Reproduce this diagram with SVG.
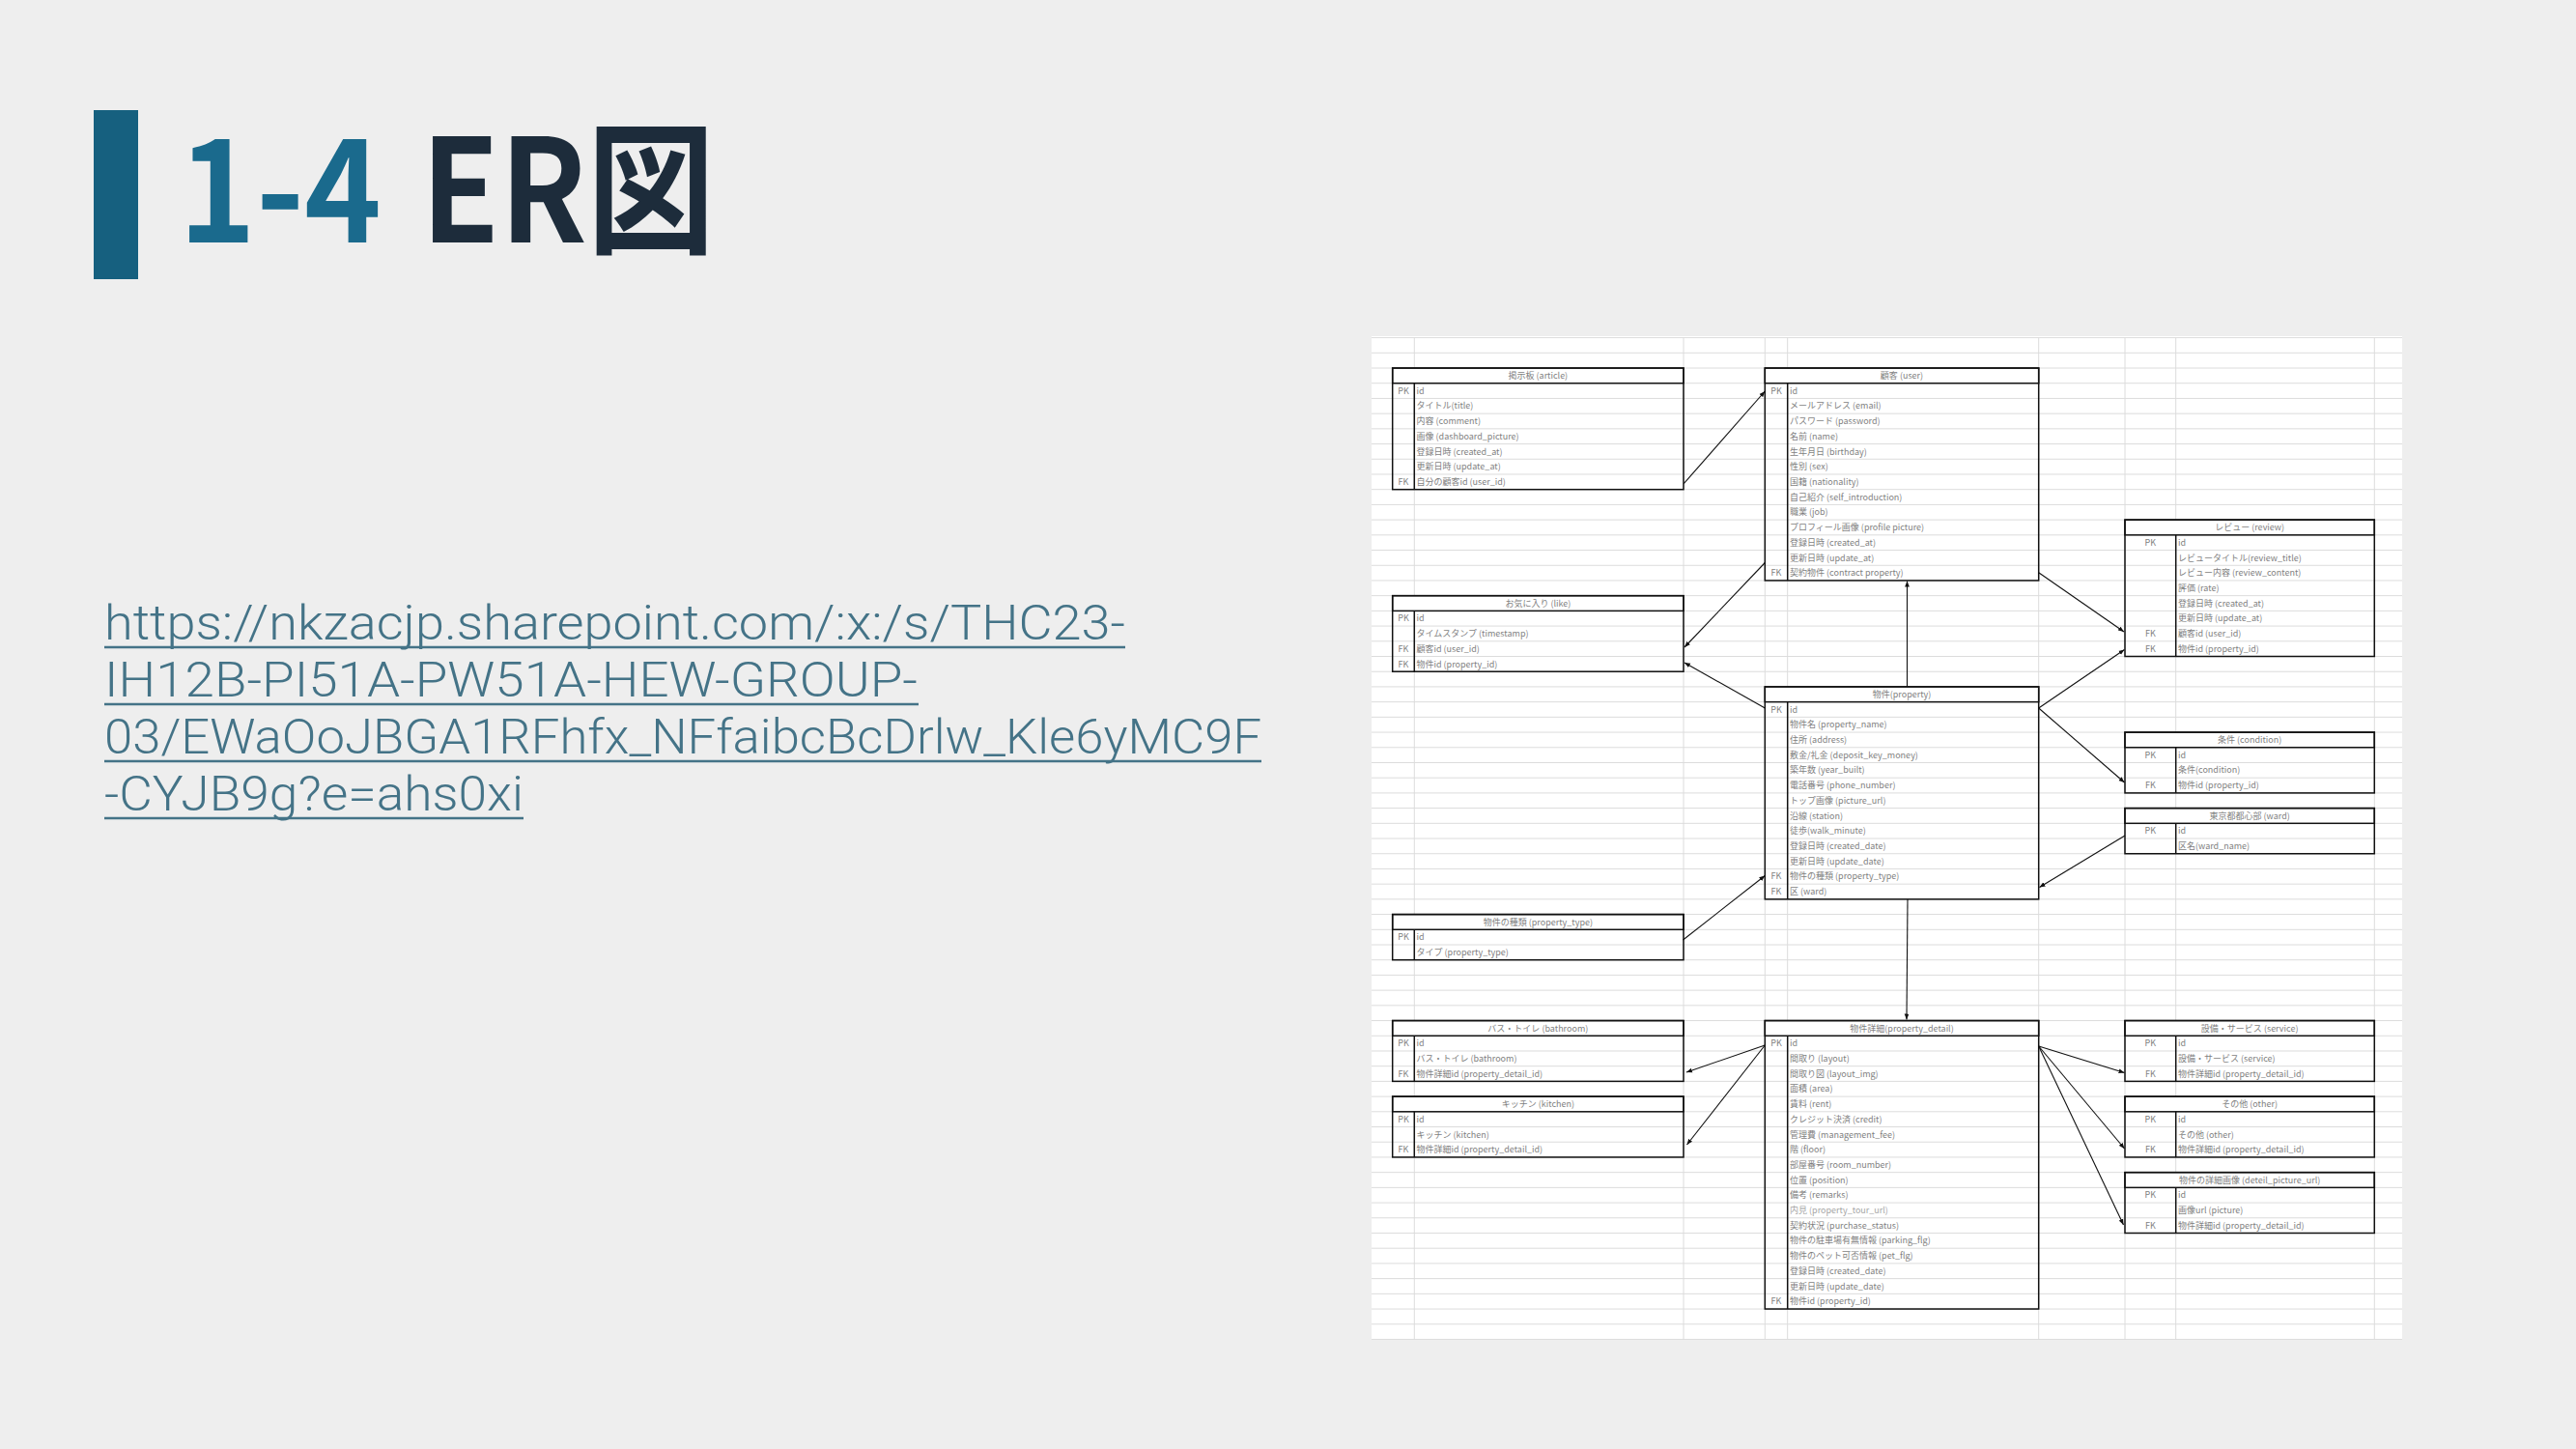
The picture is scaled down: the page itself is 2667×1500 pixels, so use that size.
<svg xmlns="http://www.w3.org/2000/svg" width="2667" height="1500" viewBox="0 0 2667 1500">
<style>
.bg{fill:#eeeeee}
.sheet{fill:#ffffff}
.grid{stroke:#dcdcdc;stroke-width:1;fill:none}
.hd{fill:#ffffff;stroke:#111;stroke-width:1.5}
.ob{fill:none;stroke:#111;stroke-width:1.5}
.dv{stroke:#111;stroke-width:1.5}
.t{font-family:"Noto Sans CJK JP","Noto Sans",sans-serif;font-size:9px;fill:#7f7f7f}
.c{text-anchor:middle}
.lt{fill:#a6a6a6}
.cn{stroke:#111;stroke-width:1.1;fill:none;marker-end:url(#ah)}
.link{font-family:Roboto,"Liberation Sans",Arial,sans-serif;font-weight:300;font-size:50px;fill:#447387}
.ul{stroke:#447387;stroke-width:2.5}
</style>
<defs>
<marker id="ah" viewBox="0 0 10 10" refX="10" refY="5" markerWidth="6" markerHeight="6" markerUnits="userSpaceOnUse" orient="auto"><path d="M0,1 L10,5 L0,9 z" fill="#111"/></marker>
</defs>
<rect class="bg" x="0" y="0" width="2667" height="1500"/>
<g id="title">
<rect x="97" y="114" width="46" height="175" fill="#16607f"/>
<text x="185" y="251" font-family="'Noto Sans CJK JP',sans-serif" font-weight="700" font-size="148" fill="#1a6a8d" textLength="210" lengthAdjust="spacingAndGlyphs">1-4</text>
<text x="436" y="251" font-family="'Noto Sans CJK JP',sans-serif" font-weight="700" font-size="148" fill="#1d2c3b" textLength="304" lengthAdjust="spacingAndGlyphs">ER図</text>
</g>
<g id="link">
<text class="link" x="108" y="662" textLength="1057" lengthAdjust="spacingAndGlyphs">https://nkzacjp.sharepoint.com/:x:/s/THC23-</text>
<text class="link" x="108" y="721" textLength="842" lengthAdjust="spacingAndGlyphs">IH12B-PI51A-PW51A-HEW-GROUP-</text>
<text class="link" x="108" y="780" textLength="1198" lengthAdjust="spacingAndGlyphs">03/EWaOoJBGA1RFhfx_NFfaibcBcDrlw_Kle6yMC9F</text>
<text class="link" x="108" y="839" textLength="434" lengthAdjust="spacingAndGlyphs">-CYJB9g?e=ahs0xi</text>
<line class="ul" x1="108" y1="670" x2="1165" y2="670"/>
<line class="ul" x1="108" y1="729" x2="951" y2="729"/>
<line class="ul" x1="108" y1="788" x2="1306" y2="788"/>
<line class="ul" x1="108" y1="847" x2="542" y2="847"/>
</g>
<g id="sheet">
<rect class="sheet" x="1420" y="348" width="1067" height="1039"/>
<path class="grid" d="M1420 349.6H2487M1420 365.31H2487M1420 381.02H2487M1420 396.73H2487M1420 412.44H2487M1420 428.15H2487M1420 443.86H2487M1420 459.57H2487M1420 475.28H2487M1420 490.99H2487M1420 506.7H2487M1420 522.41H2487M1420 538.12H2487M1420 553.83H2487M1420 569.54H2487M1420 585.25H2487M1420 600.96H2487M1420 616.67H2487M1420 632.38H2487M1420 648.09H2487M1420 663.8H2487M1420 679.51H2487M1420 695.22H2487M1420 710.93H2487M1420 726.64H2487M1420 742.35H2487M1420 758.06H2487M1420 773.77H2487M1420 789.48H2487M1420 805.19H2487M1420 820.9H2487M1420 836.61H2487M1420 852.32H2487M1420 868.03H2487M1420 883.74H2487M1420 899.45H2487M1420 915.16H2487M1420 930.87H2487M1420 946.58H2487M1420 962.29H2487M1420 978H2487M1420 993.71H2487M1420 1009.42H2487M1420 1025.13H2487M1420 1040.84H2487M1420 1056.55H2487M1420 1072.26H2487M1420 1087.97H2487M1420 1103.68H2487M1420 1119.39H2487M1420 1135.1H2487M1420 1150.81H2487M1420 1166.52H2487M1420 1182.23H2487M1420 1197.94H2487M1420 1213.65H2487M1420 1229.36H2487M1420 1245.07H2487M1420 1260.78H2487M1420 1276.49H2487M1420 1292.2H2487M1420 1307.91H2487M1420 1323.62H2487M1420 1339.33H2487M1420 1355.04H2487M1420 1370.75H2487M1420 1386.46H2487M1464.3 349.6V1386.46M1743 349.6V1386.46M1827.3 349.6V1386.46M1850.7 349.6V1386.46M2110.7 349.6V1386.46M2200 349.6V1386.46M2252.7 349.6V1386.46M2458.3 349.6V1386.46"/>
</g>

<g id="t-article">
<rect class="hd" x="1441.7" y="381.02" width="301.3" height="15.71"/>
<rect class="ob" x="1441.7" y="381.02" width="301.3" height="125.68"/>
<line class="dv" x1="1464.3" y1="396.73" x2="1464.3" y2="506.7"/>
<text class="t c" x="1592.35" y="392.02">掲示板 (article)</text>
<text class="t c" x="1453" y="407.73">PK</text><text class="t" x="1466.5" y="407.73">id</text>
<text class="t" x="1466.5" y="423.44">タイトル(title)</text>
<text class="t" x="1466.5" y="439.15">内容 (comment)</text>
<text class="t" x="1466.5" y="454.86">画像 (dashboard_picture)</text>
<text class="t" x="1466.5" y="470.57">登録日時 (created_at)</text>
<text class="t" x="1466.5" y="486.28">更新日時 (update_at)</text>
<text class="t c" x="1453" y="501.99">FK</text><text class="t" x="1466.5" y="501.99">自分の顧客id (user_id)</text>
</g>

<g id="t-user">
<rect class="hd" x="1827.3" y="381.02" width="283.4" height="15.71"/>
<rect class="ob" x="1827.3" y="381.02" width="283.4" height="219.94"/>
<line class="dv" x1="1850.7" y1="396.73" x2="1850.7" y2="600.96"/>
<text class="t c" x="1969" y="392.02">顧客 (user)</text>
<text class="t c" x="1839" y="407.73">PK</text><text class="t" x="1853" y="407.73">id</text>
<text class="t" x="1853" y="423.44">メールアドレス (email)</text>
<text class="t" x="1853" y="439.15">パスワード (password)</text>
<text class="t" x="1853" y="454.86">名前 (name)</text>
<text class="t" x="1853" y="470.57">生年月日 (birthday)</text>
<text class="t" x="1853" y="486.28">性別 (sex)</text>
<text class="t" x="1853" y="501.99">国籍 (nationality)</text>
<text class="t" x="1853" y="517.7">自己紹介 (self_introduction)</text>
<text class="t" x="1853" y="533.41">職業 (job)</text>
<text class="t" x="1853" y="549.12">プロフィール画像 (profile picture)</text>
<text class="t" x="1853" y="564.83">登録日時 (created_at)</text>
<text class="t" x="1853" y="580.54">更新日時 (update_at)</text>
<text class="t c" x="1839" y="596.25">FK</text><text class="t" x="1853" y="596.25">契約物件 (contract property)</text>
</g>

<g id="t-review">
<rect class="hd" x="2200" y="538.12" width="258.3" height="15.71"/>
<rect class="ob" x="2200" y="538.12" width="258.3" height="141.39"/>
<line class="dv" x1="2252.7" y1="553.83" x2="2252.7" y2="679.51"/>
<text class="t c" x="2329.15" y="549.12">レビュー (review)</text>
<text class="t c" x="2226.35" y="564.83">PK</text><text class="t" x="2255" y="564.83">id</text>
<text class="t" x="2255" y="580.54">レビュータイトル(review_title)</text>
<text class="t" x="2255" y="596.25">レビュー内容 (review_content)</text>
<text class="t" x="2255" y="611.96">評価 (rate)</text>
<text class="t" x="2255" y="627.67">登録日時 (created_at)</text>
<text class="t" x="2255" y="643.38">更新日時 (update_at)</text>
<text class="t c" x="2226.35" y="659.09">FK</text><text class="t" x="2255" y="659.09">顧客id (user_id)</text>
<text class="t c" x="2226.35" y="674.8">FK</text><text class="t" x="2255" y="674.8">物件id (property_id)</text>
</g>

<g id="t-like">
<rect class="hd" x="1441.7" y="616.67" width="301.3" height="15.71"/>
<rect class="ob" x="1441.7" y="616.67" width="301.3" height="78.55"/>
<line class="dv" x1="1464.3" y1="632.38" x2="1464.3" y2="695.22"/>
<text class="t c" x="1592.35" y="627.67">お気に入り (like)</text>
<text class="t c" x="1453" y="643.38">PK</text><text class="t" x="1466.5" y="643.38">id</text>
<text class="t" x="1466.5" y="659.09">タイムスタンプ (timestamp)</text>
<text class="t c" x="1453" y="674.8">FK</text><text class="t" x="1466.5" y="674.8">顧客id (user_id)</text>
<text class="t c" x="1453" y="690.51">FK</text><text class="t" x="1466.5" y="690.51">物件id (property_id)</text>
</g>

<g id="t-property">
<rect class="hd" x="1827.3" y="710.93" width="283.4" height="15.71"/>
<rect class="ob" x="1827.3" y="710.93" width="283.4" height="219.94"/>
<line class="dv" x1="1850.7" y1="726.64" x2="1850.7" y2="930.87"/>
<text class="t c" x="1969" y="721.93">物件(property)</text>
<text class="t c" x="1839" y="737.64">PK</text><text class="t" x="1853" y="737.64">id</text>
<text class="t" x="1853" y="753.35">物件名 (property_name)</text>
<text class="t" x="1853" y="769.06">住所 (address)</text>
<text class="t" x="1853" y="784.77">敷金/礼金 (deposit_key_money)</text>
<text class="t" x="1853" y="800.48">築年数 (year_built)</text>
<text class="t" x="1853" y="816.19">電話番号 (phone_number)</text>
<text class="t" x="1853" y="831.9">トップ画像 (picture_url)</text>
<text class="t" x="1853" y="847.61">沿線 (station)</text>
<text class="t" x="1853" y="863.32">徒歩(walk_minute)</text>
<text class="t" x="1853" y="879.03">登録日時 (created_date)</text>
<text class="t" x="1853" y="894.74">更新日時 (update_date)</text>
<text class="t c" x="1839" y="910.45">FK</text><text class="t" x="1853" y="910.45">物件の種類 (property_type)</text>
<text class="t c" x="1839" y="926.16">FK</text><text class="t" x="1853" y="926.16">区 (ward)</text>
</g>

<g id="t-condition">
<rect class="hd" x="2200" y="758.06" width="258.3" height="15.71"/>
<rect class="ob" x="2200" y="758.06" width="258.3" height="62.84"/>
<line class="dv" x1="2252.7" y1="773.77" x2="2252.7" y2="820.9"/>
<text class="t c" x="2329.15" y="769.06">条件 (condition)</text>
<text class="t c" x="2226.35" y="784.77">PK</text><text class="t" x="2255" y="784.77">id</text>
<text class="t" x="2255" y="800.48">条件(condition)</text>
<text class="t c" x="2226.35" y="816.19">FK</text><text class="t" x="2255" y="816.19">物件id (property_id)</text>
</g>

<g id="t-ward">
<rect class="hd" x="2200" y="836.61" width="258.3" height="15.71"/>
<rect class="ob" x="2200" y="836.61" width="258.3" height="47.13"/>
<line class="dv" x1="2252.7" y1="852.32" x2="2252.7" y2="883.74"/>
<text class="t c" x="2329.15" y="847.61">東京都都心部 (ward)</text>
<text class="t c" x="2226.35" y="863.32">PK</text><text class="t" x="2255" y="863.32">id</text>
<text class="t" x="2255" y="879.03">区名(ward_name)</text>
</g>

<g id="t-property-type">
<rect class="hd" x="1441.7" y="946.58" width="301.3" height="15.71"/>
<rect class="ob" x="1441.7" y="946.58" width="301.3" height="47.13"/>
<line class="dv" x1="1464.3" y1="962.29" x2="1464.3" y2="993.71"/>
<text class="t c" x="1592.35" y="957.58">物件の種類 (property_type)</text>
<text class="t c" x="1453" y="973.29">PK</text><text class="t" x="1466.5" y="973.29">id</text>
<text class="t" x="1466.5" y="989">タイプ (property_type)</text>
</g>

<g id="t-bathroom">
<rect class="hd" x="1441.7" y="1056.55" width="301.3" height="15.71"/>
<rect class="ob" x="1441.7" y="1056.55" width="301.3" height="62.84"/>
<line class="dv" x1="1464.3" y1="1072.26" x2="1464.3" y2="1119.39"/>
<text class="t c" x="1592.35" y="1067.55">バス・トイレ (bathroom)</text>
<text class="t c" x="1453" y="1083.26">PK</text><text class="t" x="1466.5" y="1083.26">id</text>
<text class="t" x="1466.5" y="1098.97">バス・トイレ (bathroom)</text>
<text class="t c" x="1453" y="1114.68">FK</text><text class="t" x="1466.5" y="1114.68">物件詳細id (property_detail_id)</text>
</g>

<g id="t-kitchen">
<rect class="hd" x="1441.7" y="1135.1" width="301.3" height="15.71"/>
<rect class="ob" x="1441.7" y="1135.1" width="301.3" height="62.84"/>
<line class="dv" x1="1464.3" y1="1150.81" x2="1464.3" y2="1197.94"/>
<text class="t c" x="1592.35" y="1146.1">キッチン (kitchen)</text>
<text class="t c" x="1453" y="1161.81">PK</text><text class="t" x="1466.5" y="1161.81">id</text>
<text class="t" x="1466.5" y="1177.52">キッチン (kitchen)</text>
<text class="t c" x="1453" y="1193.23">FK</text><text class="t" x="1466.5" y="1193.23">物件詳細id (property_detail_id)</text>
</g>

<g id="t-property-detail">
<rect class="hd" x="1827.3" y="1056.55" width="283.4" height="15.71"/>
<rect class="ob" x="1827.3" y="1056.55" width="283.4" height="298.49"/>
<line class="dv" x1="1850.7" y1="1072.26" x2="1850.7" y2="1355.04"/>
<text class="t c" x="1969" y="1067.55">物件詳細(property_detail)</text>
<text class="t c" x="1839" y="1083.26">PK</text><text class="t" x="1853" y="1083.26">id</text>
<text class="t" x="1853" y="1098.97">間取り (layout)</text>
<text class="t" x="1853" y="1114.68">間取り図 (layout_img)</text>
<text class="t" x="1853" y="1130.39">面積 (area)</text>
<text class="t" x="1853" y="1146.1">賃料 (rent)</text>
<text class="t" x="1853" y="1161.81">クレジット決済 (credit)</text>
<text class="t" x="1853" y="1177.52">管理費 (management_fee)</text>
<text class="t" x="1853" y="1193.23">階 (floor)</text>
<text class="t" x="1853" y="1208.94">部屋番号 (room_number)</text>
<text class="t" x="1853" y="1224.65">位置 (position)</text>
<text class="t" x="1853" y="1240.36">備考 (remarks)</text>
<text class="t lt" x="1853" y="1256.07">内見 (property_tour_url)</text>
<text class="t" x="1853" y="1271.78">契約状況 (purchase_status)</text>
<text class="t" x="1853" y="1287.49">物件の駐車場有無情報 (parking_flg)</text>
<text class="t" x="1853" y="1303.2">物件のペット可否情報 (pet_flg)</text>
<text class="t" x="1853" y="1318.91">登録日時 (created_date)</text>
<text class="t" x="1853" y="1334.62">更新日時 (update_date)</text>
<text class="t c" x="1839" y="1350.33">FK</text><text class="t" x="1853" y="1350.33">物件id (property_id)</text>
</g>

<g id="t-service">
<rect class="hd" x="2200" y="1056.55" width="258.3" height="15.71"/>
<rect class="ob" x="2200" y="1056.55" width="258.3" height="62.84"/>
<line class="dv" x1="2252.7" y1="1072.26" x2="2252.7" y2="1119.39"/>
<text class="t c" x="2329.15" y="1067.55">設備・サービス (service)</text>
<text class="t c" x="2226.35" y="1083.26">PK</text><text class="t" x="2255" y="1083.26">id</text>
<text class="t" x="2255" y="1098.97">設備・サービス (service)</text>
<text class="t c" x="2226.35" y="1114.68">FK</text><text class="t" x="2255" y="1114.68">物件詳細id (property_detail_id)</text>
</g>

<g id="t-other">
<rect class="hd" x="2200" y="1135.1" width="258.3" height="15.71"/>
<rect class="ob" x="2200" y="1135.1" width="258.3" height="62.84"/>
<line class="dv" x1="2252.7" y1="1150.81" x2="2252.7" y2="1197.94"/>
<text class="t c" x="2329.15" y="1146.1">その他 (other)</text>
<text class="t c" x="2226.35" y="1161.81">PK</text><text class="t" x="2255" y="1161.81">id</text>
<text class="t" x="2255" y="1177.52">その他 (other)</text>
<text class="t c" x="2226.35" y="1193.23">FK</text><text class="t" x="2255" y="1193.23">物件詳細id (property_detail_id)</text>
</g>

<g id="t-detail-picture">
<rect class="hd" x="2200" y="1213.65" width="258.3" height="15.71"/>
<rect class="ob" x="2200" y="1213.65" width="258.3" height="62.84"/>
<line class="dv" x1="2252.7" y1="1229.36" x2="2252.7" y2="1276.49"/>
<text class="t c" x="2329.15" y="1224.65">物件の詳細画像 (deteil_picture_url)</text>
<text class="t c" x="2226.35" y="1240.36">PK</text><text class="t" x="2255" y="1240.36">id</text>
<text class="t" x="2255" y="1256.07">画像url (picture)</text>
<text class="t c" x="2226.35" y="1271.78">FK</text><text class="t" x="2255" y="1271.78">物件詳細id (property_detail_id)</text>
</g>

<g id="connectors">
<line class="cn" x1="1743.3" y1="500.7" x2="1827.3" y2="405"/>
<line class="cn" x1="1827.3" y1="582.5" x2="1744" y2="670"/>
<line class="cn" x1="1827.3" y1="733" x2="1744" y2="686"/>
<line class="cn" x1="1974.5" y1="710.9" x2="1974.5" y2="601.5"/>
<line class="cn" x1="2110.7" y1="592.7" x2="2199" y2="654"/>
<line class="cn" x1="2110.7" y1="733" x2="2199.5" y2="672.5"/>
<line class="cn" x1="2110.7" y1="733" x2="2199.5" y2="810"/>
<line class="cn" x1="2200" y1="865" x2="2111.5" y2="918.5"/>
<line class="cn" x1="1742.5" y1="973" x2="1827.3" y2="906.5"/>
<line class="cn" x1="1975" y1="930.9" x2="1974" y2="1055.5"/>
<line class="cn" x1="1827.3" y1="1082" x2="1746" y2="1110"/>
<line class="cn" x1="1827.3" y1="1082" x2="1746.5" y2="1185"/>
<line class="cn" x1="2110.7" y1="1083" x2="2199.5" y2="1110.5"/>
<line class="cn" x1="2110.7" y1="1083" x2="2199.5" y2="1189"/>
<line class="cn" x1="2110.7" y1="1083" x2="2198.5" y2="1268"/>
</g>
</svg>
